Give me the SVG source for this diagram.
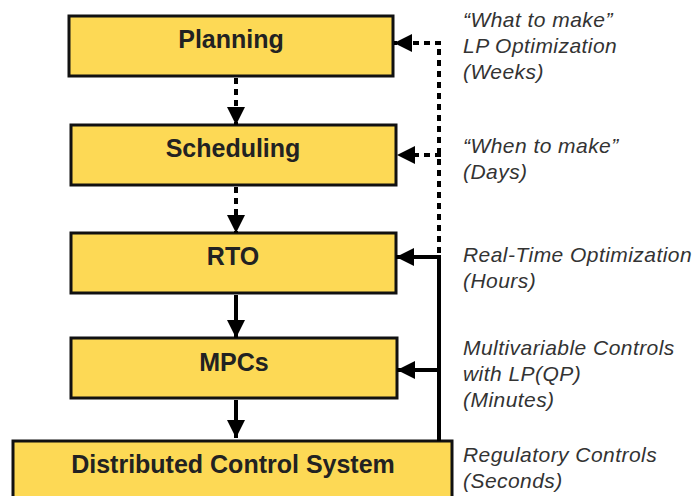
<svg xmlns="http://www.w3.org/2000/svg" width="694" height="496" viewBox="0 0 694 496">
<style>
.box{fill:#FDD955;stroke:#111;stroke-width:3}
.lbl{font-family:"Liberation Sans",Arial,sans-serif;font-weight:bold;font-size:25px;fill:#222;text-anchor:middle}
.note{font-family:"Liberation Sans",Arial,sans-serif;font-style:italic;font-size:21px;letter-spacing:0.45px;fill:#333}
.solid{stroke:#000;stroke-width:4;fill:none}
.dot{stroke:#000;stroke-width:4;fill:none;stroke-dasharray:6 5}
</style>
<defs>
<marker id="ah" markerUnits="userSpaceOnUse" markerWidth="18" markerHeight="18" refX="18" refY="9" orient="auto">
<path d="M0,0 L18,9 L0,18 Z" fill="#000"/>
</marker>
</defs>
<rect width="694" height="496" fill="#fff"/>
<g id="planning"><rect class="box" x="69" y="16" width="324" height="60"/><text class="lbl" x="231" y="48">Planning</text></g>
<g id="scheduling"><rect class="box" x="71" y="125" width="325" height="60"/><text class="lbl" x="233" y="157">Scheduling</text></g>
<g id="rto"><rect class="box" x="71" y="233" width="325" height="60"/><text class="lbl" x="233" y="265">RTO</text></g>
<g id="mpcs"><rect class="box" x="71" y="338" width="326" height="60"/><text class="lbl" x="234" y="371">MPCs</text></g>
<g id="dcs"><rect class="box" x="13" y="441" width="439" height="70"/><text class="lbl" x="233" y="473">Distributed Control System</text></g>
<g id="connectors">
<path class="dot" d="M236,78 V125" marker-end="url(#ah)"/>
<path class="dot" d="M236,187 V233" marker-end="url(#ah)"/>
<path class="solid" d="M236,295 V338" marker-end="url(#ah)"/>
<path class="solid" d="M236,400 V438" marker-end="url(#ah)"/>
<path class="solid" d="M439,441 V257"/>
<path class="solid" d="M441,257 H396" marker-end="url(#ah)"/>
<path class="solid" d="M441,370 H397" marker-end="url(#ah)"/>
<path class="dot" d="M439,253 V43"/>
<path class="dot" d="M441,43 H394" marker-end="url(#ah)"/>
<path class="dot" d="M441,155 H397" marker-end="url(#ah)"/>
</g>
<g id="notes">
<text class="note" x="463" y="27">“What to make”</text>
<text class="note" x="463" y="53">LP Optimization</text>
<text class="note" x="463" y="79">(Weeks)</text>
<text class="note" x="463" y="153">“When to make”</text>
<text class="note" x="463" y="179">(Days)</text>
<text class="note" x="463" y="262">Real-Time Optimization</text>
<text class="note" x="463" y="288">(Hours)</text>
<text class="note" x="463" y="355">Multivariable Controls</text>
<text class="note" x="463" y="381">with LP(QP)</text>
<text class="note" x="463" y="407">(Minutes)</text>
<text class="note" x="463" y="462">Regulatory Controls</text>
<text class="note" x="463" y="488">(Seconds)</text>
</g>
</svg>
